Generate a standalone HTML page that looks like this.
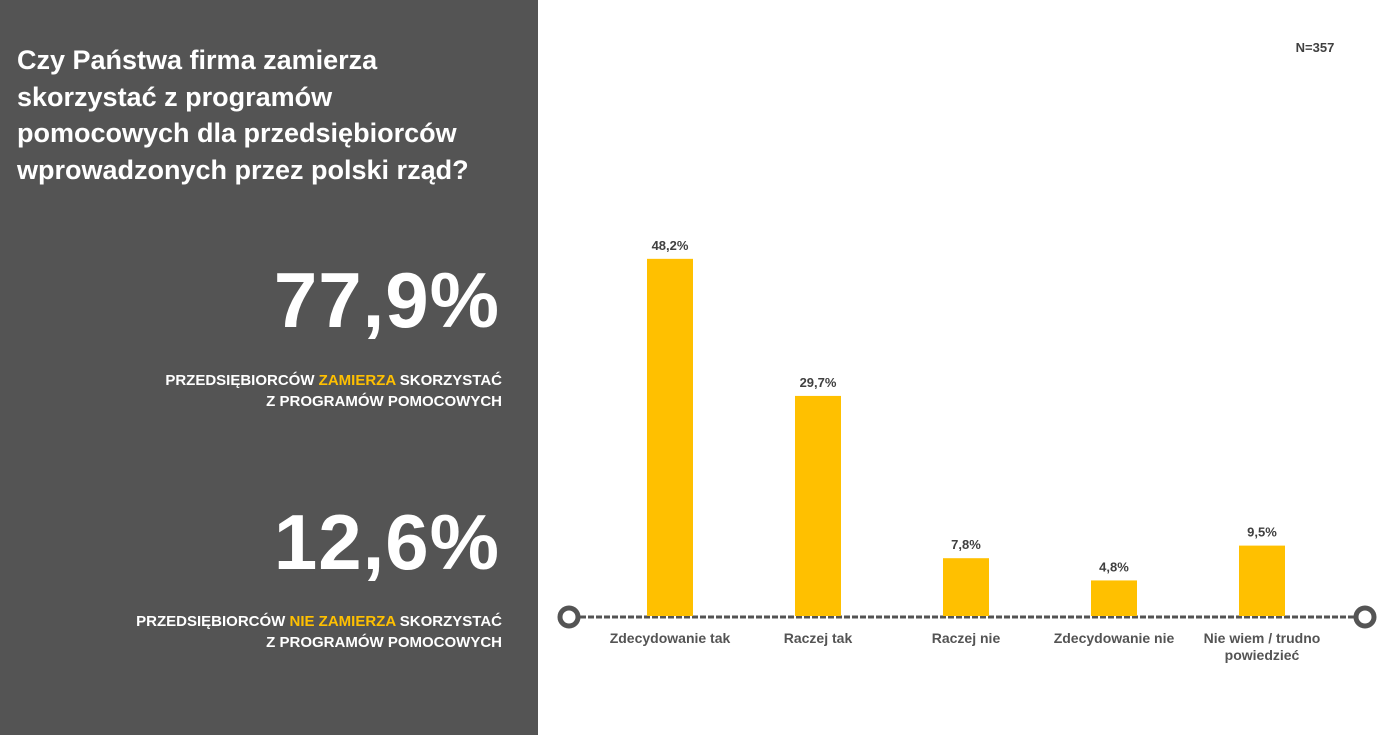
<!DOCTYPE html>
<html><head><meta charset="utf-8"><style>
body{margin:0;width:1395px;height:735px;position:relative;background:#fff;font-family:"Liberation Sans",sans-serif;overflow:hidden}
#left{position:absolute;left:0;top:0;width:538px;height:735px;background:#545454;color:#fff}
.t{position:absolute;left:17px;top:42px;font-size:27px;font-weight:bold;line-height:36.5px}
.big{position:absolute;right:38px;font-size:78px;font-weight:bold;letter-spacing:1px}
.sub{position:absolute;right:36px;text-align:right;font-size:15px;font-weight:bold;line-height:21px}
.y{color:#FFC000}
</style></head><body>
<div id="left">
<div class="t">Czy Państwa firma zamierza<br>skorzystać z programów<br>pomocowych dla przedsiębiorców<br>wprowadzonych przez polski rząd?</div>
<div class="big" style="top:255px">77,9%</div>
<div class="sub" style="top:370px">PRZEDSIĘBIORCÓW <span class="y">ZAMIERZA</span> SKORZYSTAĆ<br>Z PROGRAMÓW POMOCOWYCH</div>
<div class="big" style="top:497px">12,6%</div>
<div class="sub" style="top:611px">PRZEDSIĘBIORCÓW <span class="y">NIE ZAMIERZA</span> SKORZYSTAĆ<br>Z PROGRAMÓW POMOCOWYCH</div>
</div>
<svg id="chart" width="1395" height="735" style="position:absolute;left:0;top:0">
<text x="1315" y="52" text-anchor="middle" font-size="13" font-weight="bold" fill="#404040">N=357</text>
<line x1="580" y1="617" x2="1354" y2="617" stroke="#545454" stroke-width="3" stroke-dasharray="6,2"/>
<circle cx="569" cy="617" r="9" fill="#fff" stroke="#545454" stroke-width="5"/>
<circle cx="1365" cy="617" r="9" fill="#fff" stroke="#545454" stroke-width="5"/>
<g id="bars"></g>
</svg>
<script>
const categories=["Zdecydowanie tak","Raczej tak","Raczej nie","Zdecydowanie nie","Nie wiem / trudno|powiedzieć"];
const values=[48.2,29.7,7.8,4.8,9.5];
const valueLabels=["48,2%","29,7%","7,8%","4,8%","9,5%"];
const NS="http://www.w3.org/2000/svg";
const g=document.getElementById('bars');
const base=616,ppu=7.41,x0=670,step=148,bw=46;
function xs(i){return x0+i*step;}
function ys(v){return base-v*ppu;}
values.forEach((v,i)=>{
 const r=document.createElementNS(NS,'rect');
 
 
 r.setAttribute('x',xs(i)-bw/2);r.setAttribute('y',ys(v));r.setAttribute('width',bw);r.setAttribute('height',base-ys(v));r.setAttribute('fill','#FFC000');
 g.appendChild(r);
 const t=document.createElementNS(NS,'text');
 
 
 t.setAttribute('x',xs(i));t.setAttribute('y',ys(v)-9);t.setAttribute('text-anchor','middle');t.setAttribute('font-size','13');t.setAttribute('font-weight','bold');t.setAttribute('fill','#404040');
 t.textContent=valueLabels[i];g.appendChild(t);
 categories[i].split('|').forEach((ln,j)=>{
  const c=document.createElementNS(NS,'text');
  
  
  c.setAttribute('x',xs(i));c.setAttribute('y',643+j*17);c.setAttribute('text-anchor','middle');c.setAttribute('font-size','14');c.setAttribute('font-weight','bold');c.setAttribute('fill','#545454');
  c.textContent=ln;g.appendChild(c);
 });
});
</script>
</body></html>
